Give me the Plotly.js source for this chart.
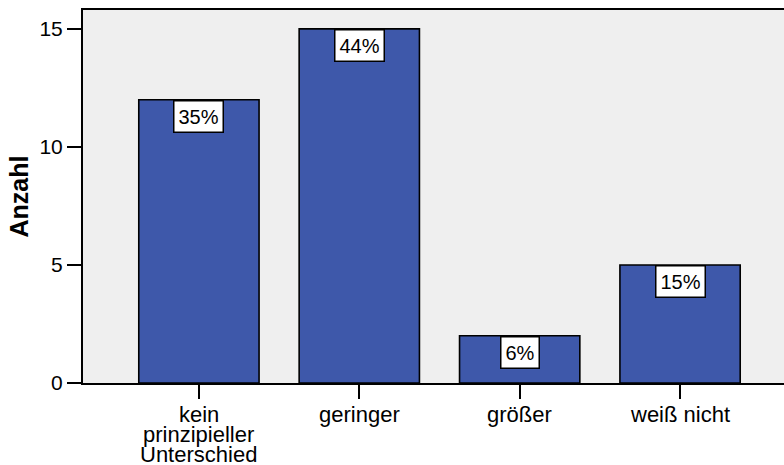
<!DOCTYPE html>
<html>
<head>
<meta charset="utf-8">
<script src="https://cdn.plot.ly/plotly-3.0.1.min.js"></script>
<style>html,body{margin:0;padding:0;background:#fff;}#chart{width:784px;height:465px;}</style>
</head>
<body>
<div id="chart"></div>
<script>
const categories = ["kein prinzipieller Unterschied", "geringer", "größer", "weiß nicht"];
const tickLabels = [["kein", "prinzipieller", "Unterschied"], ["geringer"], ["größer"], ["weiß nicht"]];
const counts = [12, 15, 2, 5];
const percentLabels = ["35%", "44%", "6%", "15%"];
const yTicks = [0, 5, 10, 15];

const FONT = "Liberation Sans, Arial, Helvetica, sans-serif";

const trace = {
  type: "bar",
  x: categories,
  y: counts,
  width: 0.75,
  marker: { color: "rgb(62,88,170)", line: { color: "#000", width: 1.6 } },
  hoverinfo: "none"
};

const annotations = [];
categories.forEach((c, i) => {
  annotations.push({
    x: c, y: counts[i], xref: "x", yref: "y",
    text: percentLabels[i], showarrow: false,
    yanchor: "top", xanchor: "center",
    font: { family: FONT, size: 20, color: "#000" },
    bgcolor: "#fff", bordercolor: "#000", borderwidth: 1.5, borderpad: 4
  });
  tickLabels[i].forEach((line, j) => {
    annotations.push({
      x: c, y: 0, xref: "x", yref: "paper",
      text: line, showarrow: false,
      yanchor: "top", xanchor: "center",
      yshift: -18 - j * 20,
      borderpad: 0,
      font: { family: FONT, size: 22, color: "#000" }
    });
  });
});

const layout = {
  width: 784, height: 465,
  margin: { l: 83, r: 0, t: 10, b: 82, pad: 0 },
  paper_bgcolor: "#fff",
  plot_bgcolor: "rgb(239,239,239)",
  showlegend: false,
  font: { family: FONT, color: "#000" },
  xaxis: {
    type: "category",
    categoryorder: "array", categoryarray: categories,
    range: [-0.7227, 3.648],
    showticklabels: false,
    ticks: "outside", ticklen: 14, tickwidth: 2, tickcolor: "#000",
    showline: true, linecolor: "#000", linewidth: 2, mirror: true,
    showgrid: false, zeroline: false, fixedrange: true
  },
  yaxis: {
    range: [0, 15.8],
    tickvals: yTicks, ticktext: yTicks.map(String),
    ticks: "outside", ticklen: 14, tickwidth: 2, tickcolor: "#000",
    tickfont: { family: FONT, size: 21, color: "#000" },
    showline: true, linecolor: "#000", linewidth: 2,
    showgrid: false, zeroline: false, fixedrange: true,
    title: { text: "<b>Anzahl</b>", font: { family: FONT, size: 25, color: "#000" }, standoff: 4 }
  },
  annotations: annotations
};

Plotly.newPlot("chart", [trace], layout, { displayModeBar: false, staticPlot: true });
</script>
</body>
</html>
